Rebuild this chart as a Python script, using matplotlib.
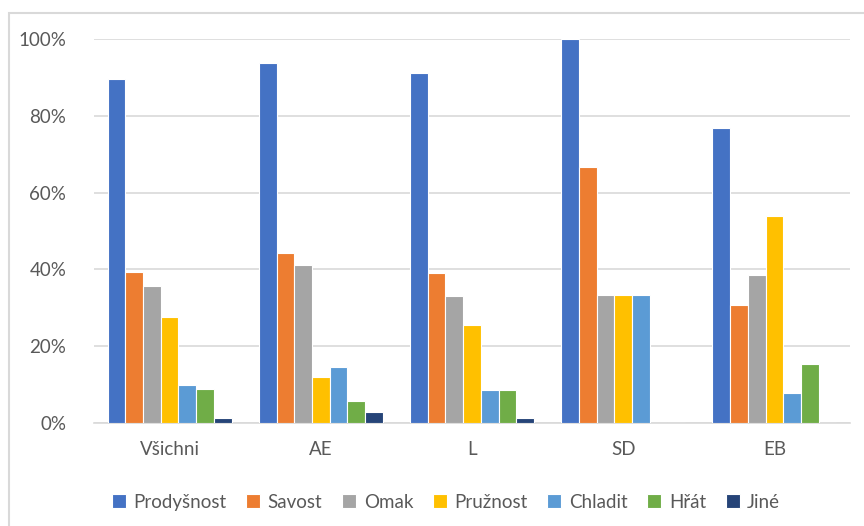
import matplotlib.pyplot as plt
import numpy as np
from matplotlib.patches import Rectangle
from matplotlib.ticker import PercentFormatter

categories = ["Všichni", "AE", "L", "SD", "EB"]
series = ["Prodyšnost", "Savost", "Omak", "Pružnost", "Chladit", "Hřát", "Jiné"]
values = {
    "Prodyšnost": [89.6, 93.8, 91.1, 100.0, 76.9],
    "Savost": [39.4, 44.3, 39.1, 66.7, 30.8],
    "Omak": [35.7, 41.1, 33.1, 33.3, 38.5],
    "Pružnost": [27.6, 12.0, 25.5, 33.3, 53.8],
    "Chladit": [9.9, 14.6, 8.6, 33.3, 7.7],
    "Hřát": [8.9, 5.7, 8.6, 0.0, 15.4],
    "Jiné": [1.3, 2.9, 1.3, 0.0, 0.0],
}
colors = ["#4472C4", "#ED7D31", "#A5A5A5", "#FFC000", "#5B9BD5", "#70AD47", "#264478"]

plt.rcParams["font.family"] = ["Lato", "DejaVu Sans"]

fig = plt.figure(figsize=(8.64, 5.26), dpi=100)
fig.patches.append(Rectangle((9 / 864, -0.1), 1.0, (526 - 13) / 526 + 0.1,
                             transform=fig.transFigure, fill=False,
                             edgecolor="#d9d9d9", linewidth=1.5))
ax = fig.add_axes([94 / 864, 103 / 526, 756 / 864, 384 / 526])

x = np.arange(len(categories))
pitch = 0.117
for i, (name, c) in enumerate(zip(series, colors)):
    offs = (i - 3) * pitch
    ax.bar(x + offs, values[name], width=pitch, color=c, edgecolor="white",
           linewidth=0.8, label=name, zorder=3)

ax.set_xlim(-0.5, len(categories) - 0.5)
ax.set_ylim(0, 100)
ax.set_yticks(np.arange(0, 101, 20))
ax.yaxis.set_major_formatter(PercentFormatter(decimals=0))
ax.grid(axis="y", color="#d9d9d9", linewidth=1.2, zorder=0)
ax.set_xticks(x)
ax.set_xticklabels(categories)
for s in ["top", "right", "left"]:
    ax.spines[s].set_visible(False)
ax.spines["bottom"].set_color("#d9d9d9")
ax.spines["bottom"].set_linewidth(1.2)
ax.tick_params(axis="both", length=0, labelsize=13.5, colors="#595959")
ax.tick_params(axis="x", pad=13)
ax.tick_params(axis="y", pad=20)

leg = ax.legend(loc="upper center", bbox_to_anchor=(352 / 756, -0.14), ncol=7,
                frameon=False, fontsize=13.5, handlelength=0.75, handleheight=0.75,
                columnspacing=1.05, handletextpad=0.4)
for t in leg.get_texts():
    t.set_color("#595959")

fig.savefig("out.png", dpi=100)
